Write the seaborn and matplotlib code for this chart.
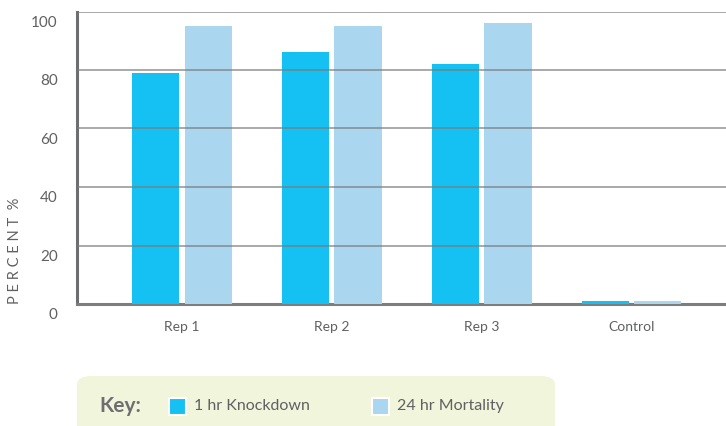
import matplotlib
matplotlib.use("Agg")
import matplotlib.pyplot as plt
import matplotlib.transforms as mtransforms
from matplotlib.patches import FancyBboxPatch, Rectangle
import seaborn as sns
import pandas as pd

categories = ["Rep 1", "Rep 2", "Rep 3", "Control"]
knockdown = [79, 86, 82, 1.1]
mortality = [95, 95, 96, 0.9]
series_names = ["1 hr Knockdown", "24 hr Mortality"]
yticks = [0, 20, 40, 60, 80, 100]

colors = ["#15C1F3", "#AAD6F0"]
text_color = "#5f6062"

sns.set_theme(style="white")
plt.rcParams["font.family"] = ["Lato", "DejaVu Sans"]

df = pd.DataFrame({
    "cat": categories * 2,
    "val": knockdown + mortality,
    "series": [series_names[0]] * 4 + [series_names[1]] * 4,
})

fig = plt.figure(figsize=(7.26, 4.26), dpi=100)
ax = fig.add_axes([77 / 726, 1 - 304 / 426, 1 - 77 / 726, (304 - 11.5) / 426])
sns.barplot(data=df, x="cat", y="val", hue="series", palette=colors,
            width=0.7, gap=0.1, saturation=1, linewidth=0, ax=ax, legend=False)
for p in ax.patches:
    p.set_zorder(7)
    p.set_linewidth(0)

ax.set_ylim(0, 100)
ax.set_xlim(-0.7, 3.63)
ax.set_yticks(yticks)
for y in yticks[1:]:
    ax.axhline(y, color="#7a7a7a", lw=1.2, alpha=0.75, zorder=8)

for s in ["top", "right"]:
    ax.spines[s].set_visible(False)
ax.spines["left"].set_color("#6d6e70")
ax.spines["left"].set_linewidth(2.2)
ax.spines["bottom"].set_color("#7d7d7d")
ax.spines["bottom"].set_linewidth(2.2)
ax.spines["bottom"].set_zorder(6)

ax.set_xlabel("")
ax.set_ylabel("")
ax.tick_params(axis="y", length=0, pad=14, labelsize=11, labelcolor=text_color)
ax.tick_params(axis="x", length=0, pad=12, labelsize=10, labelcolor=text_color)
offset = mtransforms.ScaledTranslation(0, -7 / 72, fig.dpi_scale_trans)
for lab in ax.get_yticklabels():
    lab.set_transform(lab.get_transform() + offset)
    lab.set_color(text_color)

fig.text(15 / 726, 1 - 251 / 426, "P E R C E N T  %", rotation=90, ha="center",
         va="center", fontsize=10.5, color=text_color)

# Key box
box = FancyBboxPatch((77 / 726, -0.05), (555 - 77) / 726, (0.05 + 1 - 376 / 426),
                     boxstyle="round,pad=0,rounding_size=0.02",
                     transform=fig.transFigure, facecolor="#F1F5DB",
                     edgecolor="none", zorder=0)
fig.patches.append(box)
ky = 1 - 406 / 426
fig.text(99 / 726, ky, "Key:", fontsize=15, fontweight="bold", color="#6d6e70",
         va="center", ha="left")
for i, (name, xs) in enumerate(zip(series_names, [169, 372])):
    sq = Rectangle((xs / 726, 1 - 415 / 426), 17 / 726, 17 / 426,
                   transform=fig.transFigure, facecolor=colors[i],
                   edgecolor="white", linewidth=1.5)
    fig.patches.append(sq)
    fig.text((xs + 25) / 726, ky, name, fontsize=11.5, color=text_color,
             va="center", ha="left")

fig.savefig("out.png", dpi=100)
